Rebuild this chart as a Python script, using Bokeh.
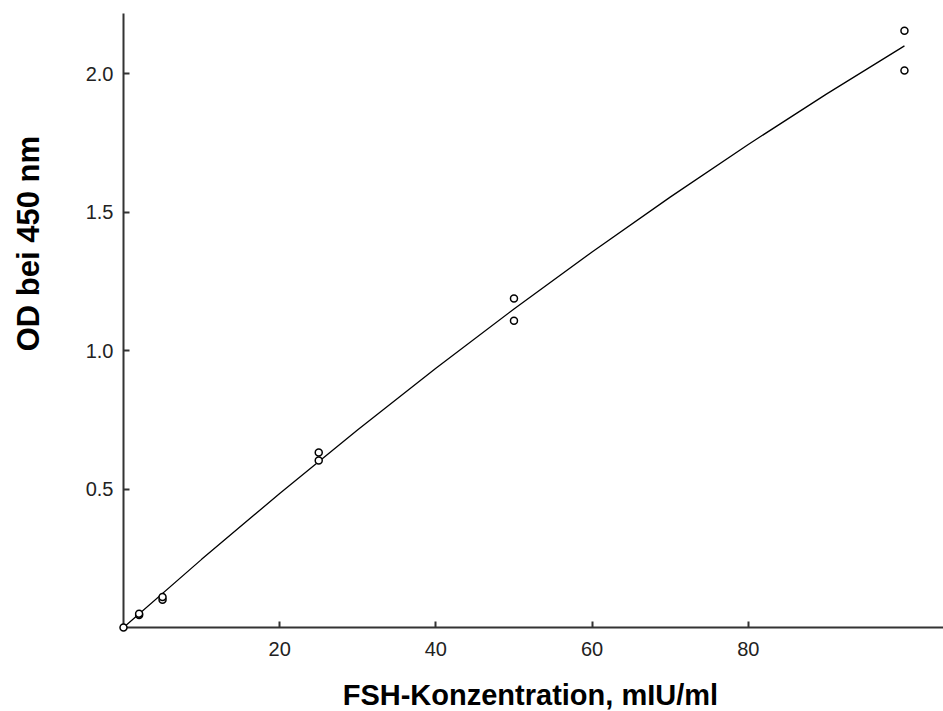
import math
from bokeh.plotting import figure
from bokeh.models import Range1d, FixedTicker, NumeralTickFormatter
from bokeh.core.properties import value
from bokeh.embed import file_html
from bokeh.resources import INLINE

# measured standards (duplicates)
conc = [0, 2, 2, 5, 5, 25, 25, 50, 50, 100, 100]
od = [0.0, 0.045, 0.05, 0.10, 0.11, 0.632, 0.603, 1.188, 1.108, 2.155, 2.011]

# fitted calibration curve
curve_x = [0, 10, 20, 30, 40, 50, 60, 70, 80, 90, 100]
curve_y = [0.0, 0.246, 0.484, 0.714, 0.936, 1.15, 1.356, 1.554, 1.744, 1.926, 2.10]

x_ticks = [20, 40, 60, 80]
y_ticks = [0.5, 1.0, 1.5, 2.0]

x_title = "FSH-Konzentration, mIU/ml"
y_title = "OD bei 450 nm"

p = figure(width=943, height=711, output_backend="svg", toolbar_location=None,
           x_range=Range1d(0, 105), y_range=Range1d(0, 2.217),
           min_border_left=123, min_border_right=0, min_border_top=13, min_border_bottom=84)
p.outline_line_color = None
p.xgrid.visible = False
p.ygrid.visible = False
p.background_fill_color = "white"

p.line(curve_x, curve_y, line_color="black", line_width=1.3)
p.scatter(conc, od, marker="circle", size=7, fill_color="white",
          line_color="black", line_width=1.5, level="overlay")

for ax in (p.xaxis[0], p.yaxis[0]):
    ax.axis_line_width = 2
    ax.axis_line_color = "#333333"
    ax.major_tick_line_width = 2
    ax.major_tick_line_color = "#333333"
    ax.major_tick_in = 6
    ax.major_tick_out = 0
    ax.minor_tick_line_color = None
    ax.major_label_text_font = "Liberation Sans"
    ax.major_label_text_font_size = "20px"
    ax.major_label_text_color = "#222222"

p.xaxis.ticker = FixedTicker(ticks=x_ticks)
p.yaxis.ticker = FixedTicker(ticks=y_ticks)
p.yaxis.formatter = NumeralTickFormatter(format="0.0")
p.xaxis.major_label_standoff = 14
p.yaxis.major_label_standoff = 10

# axis titles as text glyphs (overlay level so they are drawn outside the frame)
p.text(x=[52.1], y=[-0.245], text=[x_title], text_align="center",
       text_baseline="middle", text_font=value("Liberation Sans"),
       text_font_style="bold", text_font_size="29px", text_color="black",
       level="overlay")
p.text(x=[-12.15], y=[1.386], text=[y_title], angle=math.pi / 2,
       text_align="center", text_baseline="middle",
       text_font=value("Liberation Sans"), text_font_style="bold",
       text_font_size="31px", text_color="black", level="overlay")

open("out.html", "w").write(file_html(p, INLINE))
